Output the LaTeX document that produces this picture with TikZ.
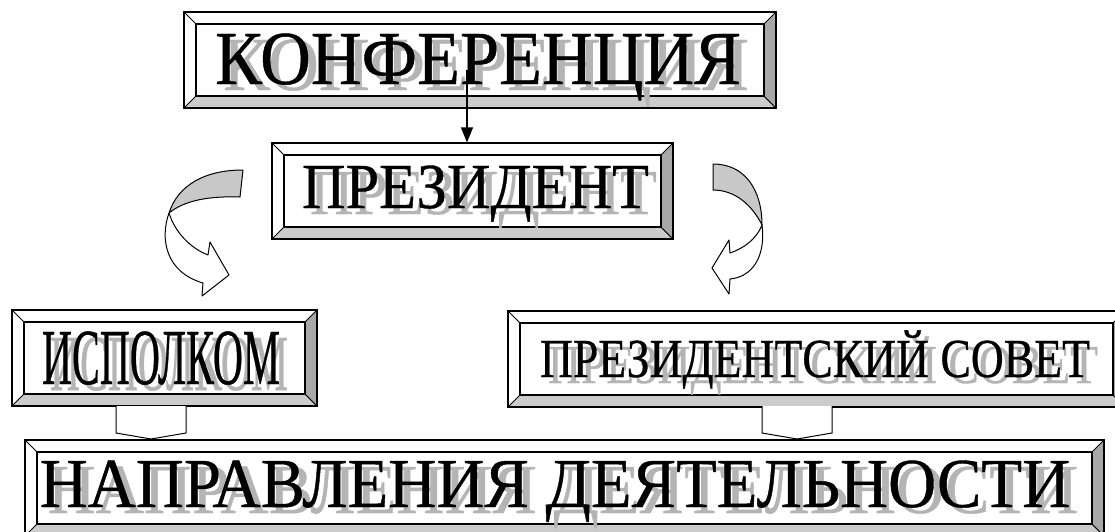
\documentclass[tikz,border=0pt]{standalone}
\usepackage{fontspec}
\setmainfont{Liberation Serif}
\newfontfamily\labelfont{Liberation Serif}[FakeBold=0.6]
\usepackage{graphicx}
\usetikzlibrary{arrows.meta}

\definecolor{bevright}{HTML}{A8A8A8}
\definecolor{bevbottom}{HTML}{CCCCCC}
\definecolor{shade}{HTML}{B4B4B4}
\definecolor{ribbon}{HTML}{C8C8C8}

% label with a grey drop shadow: width, cap height, text
\newcommand\shtxt[3]{%
  \makebox[0pt][l]{\smash{\hspace{8pt}\raisebox{-6pt}{\color{shade}\resizebox{#1}{#2}{\smash{\labelfont #3}\vphantom{Н}}}}}%
  \resizebox{#1}{#2}{\smash{\labelfont #3}\vphantom{Н}}}

\tikzset{
  Box/.style={rectangle,draw=black,line width=1.2pt,fill=white,inner sep=0pt,
    path picture={
      \path (path picture bounding box.north west) coordinate (bb-nw)
            (path picture bounding box.north east) coordinate (bb-ne)
            (path picture bounding box.south west) coordinate (bb-sw)
            (path picture bounding box.south east) coordinate (bb-se);
      \filldraw[fill=bevbottom,line width=.8pt] (bb-sw) -- (bb-se) -- ([shift={(-12pt,12pt)}]bb-se) -- ([shift={(12pt,12pt)}]bb-sw) -- cycle;
      \filldraw[fill=bevright,line width=.8pt] (bb-ne) -- (bb-se) -- ([shift={(-12pt,12pt)}]bb-se) -- ([shift={(-12pt,-12pt)}]bb-ne) -- cycle;
      \draw[line width=.8pt] (bb-nw) -- ([shift={(12pt,-12pt)}]bb-nw);
      \draw[line width=1.2pt] ([shift={(12pt,-12pt)}]bb-nw) rectangle ([shift={(-12pt,12pt)}]bb-se);
    }},
  Txt/.style={inner sep=0pt},
  Ribbon/.style={draw=black,line width=1pt,line join=round},
  Link/.style={draw=black,line width=1pt,fill=white},
}

\begin{document}
\begin{tikzpicture}[x=1pt,y=-1pt]
\useasboundingbox (0,0) rectangle (1115,532);
\clip (0,0) rectangle (1115,532);

% boxes
\node[Box,minimum width=592pt,minimum height=96pt] (konf) at (480,60) {};
\node[Box,minimum width=401pt,minimum height=96pt] (pres) at (472.5,191) {};
\node[Box,minimum width=305pt,minimum height=96pt] (isp) at (164.5,358) {};
\node[Box,minimum width=617pt,minimum height=96pt] (sovet) at (816.5,359) {};
\node[Box,minimum width=1079pt,minimum height=96pt] (napr) at (564.5,488) {};

% labels
\node[Txt] (konf-t) at (478,59) {\shtxt{526pt}{50pt}{КОНФЕРЕНЦИЯ}};
\node[Txt] (pres-t) at (475.5,187) {\shtxt{347pt}{42pt}{ПРЕЗИДЕНТ}};
\node[Txt] (isp-t) at (161,358) {\shtxt{238pt}{52pt}{ИСПОЛКОМ}};
\node[Txt] (sovet-t) at (815,359) {\shtxt{550pt}{36pt}{ПРЕЗИДЕНТСКИЙ СОВЕТ}};
\node[Txt] (napr-t) at (555,484) {\shtxt{1030pt}{46pt}{НАПРАВЛЕНИЯ ДЕЯТЕЛЬНОСТИ}};

% arrow from the conference
\coordinate (konf-out) at (467,70);
\draw[line width=1.3pt,-{Triangle[width=12pt,length=15pt]}] (konf-out) -- (konf-out |- pres.north);

% curved arrows
\filldraw[Ribbon,fill=ribbon] (243,170) .. controls (205,170) and (178,185) .. (169,213)
  .. controls (185,200) and (210,196) .. (240,197) -- cycle;
\filldraw[Ribbon,fill=white] (169,213) .. controls (160,238) and (165,272) .. (203,283)
  -- (202,296) -- (229,275) -- (210,242) -- (208,255)
  .. controls (190,248) and (175,232) .. (169,213) -- cycle;

\filldraw[Ribbon,fill=ribbon] (713,164) .. controls (745,164) and (762,190) .. (762,225)
  .. controls (752,205) and (735,190) .. (713,190) -- cycle;
\filldraw[Ribbon,fill=white] (762,225) .. controls (766,257) and (752,277) .. (730,279)
  -- (729,294) -- (712,268) -- (729,240) -- (730,253)
  .. controls (745,248) and (757,238) .. (762,225) -- cycle;

% block links to the bottom box
\filldraw[Link] (116,406) -- (116,433) -- (151,439) -- (186,433) -- (186,406);
\filldraw[Link] (762,406) -- (762,433) -- (797,439) -- (832,433) -- (832,406);
\end{tikzpicture}
\end{document}
